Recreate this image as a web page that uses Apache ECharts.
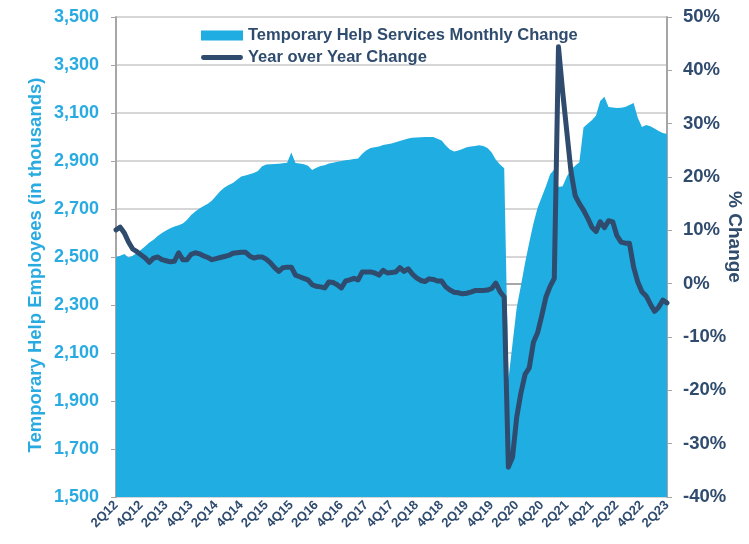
<!DOCTYPE html>
<html>
<head>
<meta charset="utf-8">
<script src="https://cdn.jsdelivr.net/npm/echarts@6/dist/echarts.min.js"></script>
<style>
  html, body { margin: 0; padding: 0; background: #fff; }
  #tempHelpChart { width: 749px; height: 544px; }
</style>
</head>
<body>
<div id="tempHelpChart"></div>
<script>
// 月度数据：2012年4月 ~ 2023年4月
const months = [];
for (let y = 2012; y <= 2023; y++) {
    for (let m = 1; m <= 12; m++) {
        if ((y === 2012 && m < 4) || (y === 2023 && m > 4)) continue;
        months.push(y + '-' + (m < 10 ? '0' + m : m));
    }
}

// 临时工就业人数（千人）
const employees = [
    2500, 2505, 2512, 2498, 2505, 2517, 2530, 2545, 2560, 2572,
    2588, 2600, 2610, 2620, 2627, 2632, 2640, 2654, 2675, 2690,
    2702, 2712, 2722, 2735, 2755, 2775, 2790, 2800, 2808, 2822,
    2835, 2840, 2845, 2850, 2858, 2878, 2885, 2886, 2888, 2889,
    2891, 2893, 2935, 2892, 2890, 2886, 2880, 2862, 2872, 2879,
    2882, 2890, 2893, 2897, 2900, 2903, 2905, 2908, 2910, 2930,
    2945, 2954, 2957, 2960, 2967, 2970, 2973, 2978, 2983, 2989,
    2994, 2997, 2998, 2999, 3000, 3000, 3000, 2993, 2985, 2965,
    2948, 2940, 2944, 2950, 2957, 2960, 2963, 2966, 2962, 2954,
    2935, 2905, 2885, 2870, 1988, 2140, 2290, 2380, 2475, 2560,
    2640, 2705, 2750, 2795, 2845, 2865, 2792, 2795, 2835, 2865,
    2880, 2895, 3040, 3055, 3070, 3090, 3150, 3168, 3125, 3123,
    3121, 3122, 3125, 3133, 3142, 3080, 3042, 3050, 3045, 3035,
    3025, 3017, 3012
];

// 同比变化（%）
const yoyChange = [
    10.1, 10.6, 9.5, 7.8, 6.5, 6.0, 5.4, 4.8, 4.0, 4.8,
    5.0, 4.5, 4.3, 4.1, 4.2, 5.8, 4.5, 4.5, 5.5, 5.8,
    5.6, 5.2, 4.9, 4.5, 4.7, 4.9, 5.1, 5.3, 5.7, 5.8,
    5.9, 5.9, 5.2, 4.8, 5.0, 5.0, 4.6, 3.9, 3.0, 2.3,
    3.0, 3.1, 3.1, 1.6, 1.3, 1.0, 0.7, -0.2, -0.5, -0.6,
    -0.8, 0.3, 0.2, -0.2, -0.8, 0.5, 0.7, 1.0, 0.7, 2.2,
    2.2, 2.2, 2.0, 1.6, 2.5, 2.0, 2.1, 2.2, 3.0, 2.3,
    2.8, 1.8, 1.1, 0.6, 0.4, 0.9, 0.8, 0.5, 0.5, -0.6,
    -1.2, -1.6, -1.7, -1.9, -1.8, -1.6, -1.3, -1.3, -1.3, -1.2,
    -0.9, 0.1, -1.5, -2.5, -34.4, -32.5, -25.0, -20.5, -17.0, -15.8,
    -11.0, -9.2, -6.0, -2.5, -0.5, 1.0, 44.4, 36.0, 28.5, 21.0,
    16.5, 15.0, 13.8, 12.3, 10.6, 9.8, 11.6, 10.5, 11.8, 11.6,
    9.0, 7.8, 7.6, 7.6, 3.1, 0.3, -1.5, -2.3, -3.8, -5.2,
    -4.4, -3.1, -3.6
];

const lightBlue = '#1fade2';
const navy = '#2f4b6e';
const font = 'Liberation Sans, Arial, sans-serif';

function quarterLabel(ym) {
    let parts = ym.split('-');
    let q = Math.floor((parseInt(parts[1], 10) - 1) / 3) + 1;
    return q + 'Q' + parts[0].slice(2);
}

let tempHelpChart = echarts.init(document.getElementById('tempHelpChart'));

let tempHelpOption = {
    animation: false,
    grid: {
        left: 116,
        right: 82,
        top: 17,
        bottom: 47,
        containLabel: false,
        outerBoundsMode: 'none'
    },
    legend: {
        orient: 'vertical',
        left: 196,
        top: 22,
        itemWidth: 42,
        itemHeight: 10,
        itemGap: 5,
        textStyle: {
            color: navy,
            fontFamily: font,
            fontWeight: 'bold',
            fontSize: 16.5,
            lineHeight: 14
        },
        data: [
            {name: 'Temporary Help Services Monthly Change', icon: 'rect'},
            {
                name: 'Year over Year Change',
                // 粗线图例
                icon: 'path://M2.5,0 L41.5,0 A2.5,2.5 0 0 1 41.5,5 L2.5,5 A2.5,2.5 0 0 1 2.5,0 Z',
                itemStyle: {color: navy}
            }
        ]
    },
    xAxis: {
        type: 'category',
        boundaryGap: false,
        data: months,
        axisLine: {lineStyle: {color: '#a6a6a6', width: 2}},
        axisTick: {show: false},
        axisLabel: {
            interval: 5,
            rotate: 45,
            margin: 6,
            color: navy,
            fontFamily: font,
            fontWeight: 'bold',
            fontSize: 13,
            formatter: quarterLabel
        }
    },
    yAxis: [
        {
            type: 'value',
            min: 1500,
            max: 3500,
            interval: 200,
            name: 'Temporary Help Employees (in thousands)',
            nameLocation: 'middle',
            nameGap: 71,
            nameMoveOverlap: false,
            nameTextStyle: {
                color: '#29abe2',
                fontFamily: font,
                fontWeight: 'bold',
                fontSize: 18.5,
                padding: [0, 16, 0, 0]
            },
            axisLine: {show: true, lineStyle: {color: '#a6a6a6', width: 2}},
            axisTick: {show: true, length: 5, lineStyle: {color: '#a6a6a6'}},
            splitLine: {lineStyle: {color: '#c8c8c8', width: 1.5}},
            axisLabel: {
                margin: 17,
                color: '#29abe2',
                fontFamily: font,
                fontWeight: 'bold',
                fontSize: 18,
                formatter: function (v) {
                    return v.toLocaleString('en-US');
                }
            }
        },
        {
            type: 'value',
            min: -40,
            max: 50,
            interval: 10,
            position: 'right',
            name: '% Change',
            nameLocation: 'middle',
            nameGap: 58,
            nameMoveOverlap: false,
            nameRotate: -90,
            nameTextStyle: {
                color: navy,
                fontFamily: font,
                fontWeight: 'bold',
                fontSize: 19,
                padding: [0, 40, 0, 0]
            },
            axisLine: {show: true, lineStyle: {color: '#a6a6a6', width: 2}},
            axisTick: {show: true, length: 5, lineStyle: {color: '#a6a6a6'}},
            splitLine: {show: false},
            axisLabel: {
                margin: 16,
                color: navy,
                fontFamily: font,
                fontWeight: 'bold',
                fontSize: 18.5,
                formatter: '{value}%'
            }
        }
    ],
    series: [
        {
            name: 'Temporary Help Services Monthly Change',
            type: 'line',
            yAxisIndex: 0,
            data: employees,
            symbol: 'none',
            itemStyle: {color: lightBlue},
            lineStyle: {width: 0},
            areaStyle: {color: lightBlue, opacity: 1}
        },
        {
            name: 'Year over Year Change',
            type: 'line',
            yAxisIndex: 1,
            data: yoyChange,
            symbol: 'none',
            itemStyle: {color: navy},
            lineStyle: {color: navy, width: 5, join: 'round', cap: 'round'}
        }
    ]
};

tempHelpChart.setOption(tempHelpOption);
</script>
</body>
</html>
